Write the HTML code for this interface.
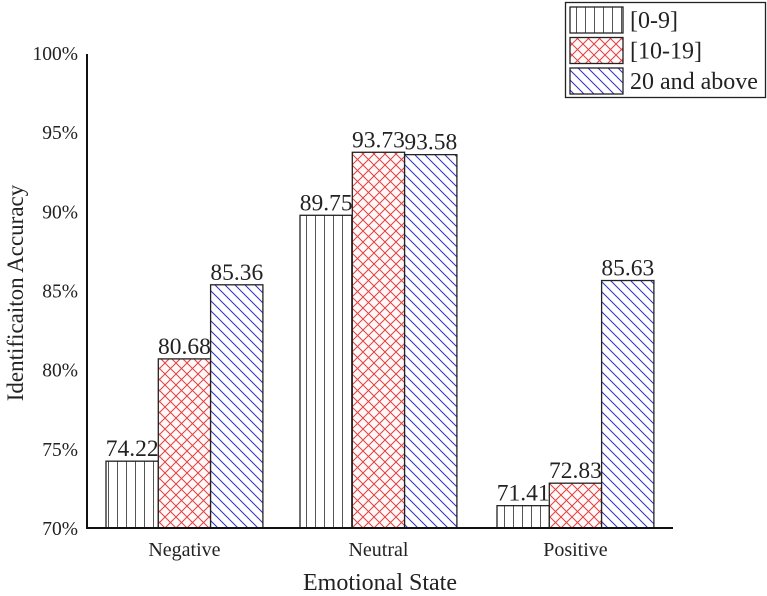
<!DOCTYPE html>
<html><head><meta charset="utf-8"><style>
body{margin:0;background:#fff;}
svg{display:block;font-family:"Liberation Serif",serif;}
</style></head><body>
<svg id="c" width="767" height="596" xmlns="http://www.w3.org/2000/svg">
<defs>
<pattern id="pv" width="9" height="10" patternUnits="userSpaceOnUse"><rect width="9" height="10" fill="#fff"/><line x1="0.5" y1="0" x2="0.5" y2="10" stroke="#555" stroke-width="1"/></pattern>
<pattern id="px" width="11" height="11" patternUnits="userSpaceOnUse"><rect width="11" height="11" fill="#fff8f8"/><path d="M0,0L11,11M11,0L0,11" stroke="#e04040" stroke-width="1"/></pattern>
<pattern id="pd" width="10" height="10" patternUnits="userSpaceOnUse"><rect width="10" height="10" fill="#fff"/><path d="M0,0L10,10M-5,5L5,15M5,-5L15,5" stroke="#3030c0" stroke-width="1"/></pattern>
</defs>
</svg>
<script>
const categories = ["Negative","Neutral","Positive"];
const seriesNames = ["[0-9]","[10-19]","20 and above"];
const s0 = [74.22, 89.75, 71.41];
const s1 = [80.68, 93.73, 72.83];
const s2 = [85.36, 93.58, 85.63];
const yTicks = [70,75,80,85,90,95,100];
const series=[s0,s1,s2];
const fills=["url(#pv)","url(#px)","url(#pd)"];
const svg=document.getElementById('c');
const NS="http://www.w3.org/2000/svg";
const y0=528, yTop=53, vmin=70, vmax=100;
const y=v=>y0-(v-vmin)/(vmax-vmin)*(y0-yTop);
const groupStart=[106,300,497], bw=52.3;
const x=(ci,si)=>groupStart[ci]+si*bw;
function el(t,a,txt){const e=document.createElementNS(NS,t);for(const k in a)e.setAttribute(k,a[k]);if(txt!==undefined)e.textContent=txt;svg.appendChild(e);return e;}
yTicks.forEach(t=>{
  const e=el('text',{x:78,y:y(t)+7,'text-anchor':'end','font-size':19.5,fill:'#222'},t+'%');
  
  
});
series.forEach((s,si)=>s.forEach((v,ci)=>{
  const r=el('rect',{x:x(ci,si),y:y(v),width:bw,height:y0-y(v),fill:fills[si],stroke:'#222','stroke-width':1.3});
  
  
  const t=el('text',{x:x(ci,si)+bw/2,y:y(v)-5,'text-anchor':'middle','font-size':23.5,fill:'#222'},v.toFixed(2));
  
  
}));
categories.forEach((c,ci)=>{
  const t=el('text',{x:groupStart[ci]+bw*1.5,y:556,'text-anchor':'middle','font-size':20,fill:'#222'},c);
  
  
});
const ax=el('path',{d:'M87,54L87,528L673,528',fill:'none',stroke:'#111','stroke-width':2});


const xt=el('text',{x:380,y:590,'text-anchor':'middle','font-size':24,fill:'#222'},'Emotional State');


const yt=el('text',{x:0,y:0,'text-anchor':'middle','font-size':23,fill:'#222',transform:'translate(23,293) rotate(-90)'},'Identificaiton Accuracy');


const lb=el('rect',{x:565.5,y:2.5,width:200,height:95,fill:'#fff',stroke:'#222','stroke-width':1.3});


seriesNames.forEach((n,si)=>{
  const yy=7+si*30.5;
  const r=el('rect',{x:570,y:yy,width:53,height:26,fill:fills[si],stroke:'#222','stroke-width':1.3});
  
  
  const t=el('text',{x:630,y:yy+21,'font-size':24,fill:'#222'},n);
  
  
});
</script>
</body></html>
